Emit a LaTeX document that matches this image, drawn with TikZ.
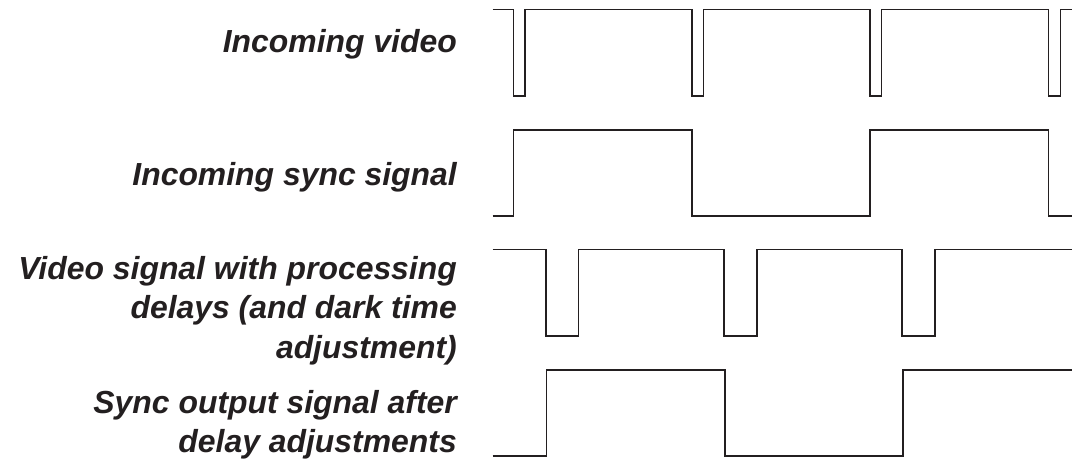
\documentclass[tikz,border=0pt]{standalone}
\usepackage{fontspec}
\setmainfont{Liberation Sans}
\usepackage{tikz}
\usetikzlibrary{positioning}
\usepackage{xcolor}
\definecolor{sigInk}{HTML}{231F20}

\begin{document}
\begin{tikzpicture}[x=1pt, y=-1pt,
    sig/.style={draw=sigInk, line width=1.6pt, line join=miter},
    lbl/.style={anchor=base east, inner sep=0pt, align=right, text=sigInk,
      font=\fontsize{31.9}{39.3}\selectfont\bfseries\itshape}]
  \useasboundingbox (0,0) rectangle (1072,461);
  % Labels (base = last line)
  \node[lbl] (lblvideo) at (457,52.7) {Incoming video};
  \node[lbl] (lblsync) at (457,185) {Incoming sync signal};
  \node[lbl] (lbldelay) at (457,358) {Video signal with processing\\delays (and dark time\\adjustment)};
  \node[lbl] (lblout) at (457,452.7) {Sync output signal after\\delay adjustments};
  % Incoming video
  \draw[sig] (492.5,9.5) \foreach \d in {513.3,691.7,869.9,1048.6} {
      -- (\d,9.5) -- (\d,96) -- (\d+11.7,96) -- (\d+11.7,9.5)} -- (1073,9.5);
  % Incoming sync
  \draw[sig] (492.5,216) -- (513.3,216) -- (513.3,130) -- (691.7,130) -- (691.7,216)
    -- (869.9,216) -- (869.9,130) -- (1048.4,130) -- (1048.4,216) -- (1073,216);
  % Delayed video
  \draw[sig] (492.5,249.5) \foreach \d in {545.7,724.1,902.2} {
      -- (\d,249.5) -- (\d,336) -- (\d+32.8,336) -- (\d+32.8,249.5)} -- (1073,249.5);
  % Sync output
  \draw[sig] (492.5,456) -- (546.5,456) -- (546.5,370) -- (725,370) -- (725,456)
    -- (903,456) -- (903,370) -- (1073,370);
\end{tikzpicture}
\end{document}
